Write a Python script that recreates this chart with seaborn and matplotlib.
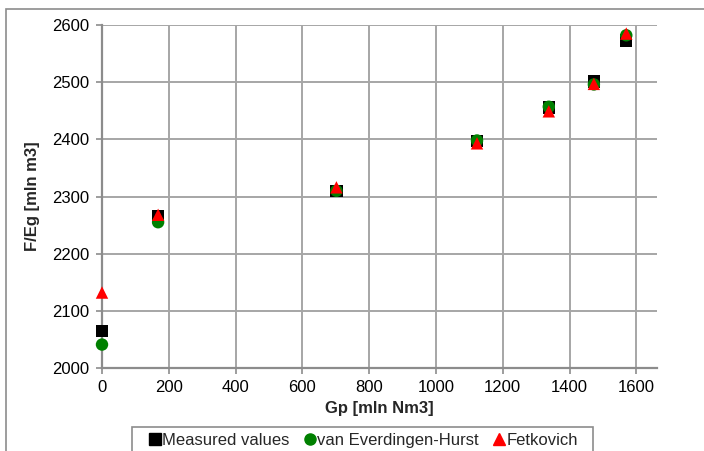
import matplotlib
matplotlib.use("Agg")
import matplotlib.pyplot as plt
import seaborn as sns
import pandas as pd
from matplotlib.patches import Rectangle

gp = [0, 168, 702, 1123, 1338, 1473, 1570]
measured = [2065, 2265, 2310, 2397, 2456, 2501, 2573]
veh = [2041, 2255, 2310, 2398, 2457, 2496, 2582]
fetkovich = [2132, 2268, 2316, 2393, 2449, 2497, 2585]
series_names = ["Measured values", "van Everdingen-Hurst", "Fetkovich"]
xticks = [0, 200, 400, 600, 800, 1000, 1200, 1400, 1600]
yticks = [2000, 2100, 2200, 2300, 2400, 2500, 2600]

rows = []
for name, vals in zip(series_names, [measured, veh, fetkovich]):
    for x, y in zip(gp, vals):
        rows.append({"Gp": x, "FEg": y, "series": name})
df = pd.DataFrame(rows)

sns.set_theme(style="white")
plt.rcParams['font.family'] = ['Liberation Sans', 'DejaVu Sans']

W, H = 704, 451
fig = plt.figure(figsize=(W/100, H/100), dpi=100)
ax = fig.add_axes([102/W, 1-368/H, (657-102)/W, (368-25)/H])

palette = {"Measured values": "black", "van Everdingen-Hurst": "#008000", "Fetkovich": "#ff0000"}
markers = {"Measured values": "s", "van Everdingen-Hurst": "o", "Fetkovich": "^"}
sns.scatterplot(data=df, x="Gp", y="FEg", hue="series", style="series",
                palette=palette, markers=markers, s=80, edgecolor="none",
                ax=ax, zorder=3, clip_on=False)

ax.set_xlim(0, 1662)
ax.set_ylim(2000, 2600)
ax.set_xticks(xticks)
ax.set_yticks(yticks)
ax.grid(True, color="#a6a6a6", linewidth=1.4)
ax.set_axisbelow(True)
for s in ["top", "right"]:
    ax.spines[s].set_visible(False)
for s in ["left", "bottom"]:
    ax.spines[s].set_color("#8c8c8c")
    ax.spines[s].set_linewidth(1.6)
ax.tick_params(axis="both", which="both", direction="out", length=4, width=1.2,
               color="#8c8c8c", labelsize=12, colors="#8c8c8c", labelcolor="black", pad=5)
ax.tick_params(left=True, bottom=True)

ax.set_xlabel("Gp [mln Nm3]", fontsize=12, fontweight="bold", labelpad=4)
ax.set_ylabel("F/Eg [mln m3]", fontsize=12, fontweight="bold", labelpad=9)

ax.legend_.remove()
handles = [plt.Line2D([], [], linestyle="none", marker=markers[n], color=palette[n],
                      markersize=8) for n in series_names]
leg = fig.legend(handles, series_names, loc="upper left", bbox_to_anchor=(143/W, 1-427/H),
                 ncol=3, frameon=False, fontsize=12, handlelength=0.7, handletextpad=0.1,
                 columnspacing=0.85, borderpad=0.35, borderaxespad=0)

# legend frame (runs off the bottom edge as in the reference)
fig.patches.append(Rectangle((132/W, -0.1), (593-132)/W, 0.1 + 1-427/H, transform=fig.transFigure,
                             fill=False, edgecolor="#8c8c8c", linewidth=1.2, zorder=0))
# outer chart-area border
fig.patches.append(Rectangle((6/W, -0.5), 2, 1.5 - 9/H, transform=fig.transFigure,
                             fill=False, edgecolor="#8c8c8c", linewidth=1.2, zorder=0))

fig.savefig("out.png", dpi=100)
